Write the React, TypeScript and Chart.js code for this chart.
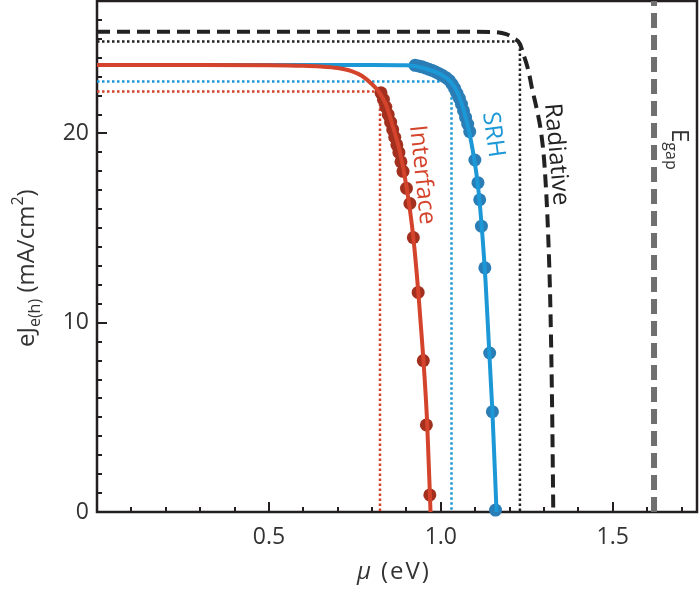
import { useEffect, useRef } from "react";
import { Chart, registerables } from "chart.js";
Chart.register(...registerables);

const FONT = '"Open Sans", "DejaVu Sans", sans-serif';

// axis ticks
const xTicks = [0.5, 1.0, 1.5];
const yTicks = [0, 10, 20];

// Interface (red) model curve
const redLineX = [0, 0.3, 0.5, 0.6, 0.65, 0.7, 0.74, 0.77, 0.8, 0.82, 0.84, 0.86, 0.88, 0.9, 0.92, 0.94, 0.96, 0.97];
const redLineY = [23.62, 23.62, 23.61, 23.58, 23.54, 23.46, 23.3, 23.05, 22.6, 22.2, 21.55, 20.4, 19.1, 17.2, 14.5, 10.3, 4.8, 0];
// Interface (red) data points
const redX = [0.826, 0.833, 0.84, 0.847, 0.854, 0.86, 0.866, 0.872, 0.878, 0.884, 0.89, 0.9, 0.91, 0.92, 0.934, 0.949, 0.958, 0.968];
const redY = [22.15, 21.8, 21.4, 21.0, 20.6, 20.2, 19.8, 19.4, 19.0, 18.5, 18.0, 17.1, 16.3, 14.5, 11.6, 8.0, 4.6, 0.9];

// SRH (blue) model curve
const blueLineX = [0, 0.5, 0.8, 0.9, 0.95, 1.0, 1.03, 1.05, 1.07, 1.09, 1.11, 1.13, 1.15, 1.162];
const blueLineY = [23.62, 23.62, 23.62, 23.6, 23.45, 23.12, 22.7, 22.1, 21.0, 19.4, 16.9, 12.2, 5.3, 0];
// SRH (blue) data points
const blueX = [0.925, 0.935, 0.945, 0.955, 0.965, 0.975, 0.985, 0.995, 1.005, 1.015, 1.025, 1.033, 1.04, 1.047, 1.054, 1.06, 1.066, 1.072, 1.078, 1.084, 1.099, 1.108, 1.113, 1.118, 1.128, 1.142, 1.15, 1.159];
const blueY = [23.6, 23.57, 23.52, 23.46, 23.4, 23.33, 23.25, 23.16, 23.06, 22.95, 22.8, 22.6, 22.38, 22.12, 21.85, 21.55, 21.2, 20.85, 20.5, 20.1, 18.6, 17.4, 16.5, 15.1, 12.9, 8.4, 5.3, 0.1];

// Radiative limit (black dashed)
const radX = [0, 0.5, 1.0, 1.15, 1.19, 1.21, 1.23, 1.24, 1.255, 1.265, 1.28, 1.292, 1.302, 1.312, 1.319, 1.324, 1.327];
const radY = [25.38, 25.38, 25.38, 25.36, 25.25, 25.05, 24.73, 24.2, 23.3, 22.4, 21.2, 20.0, 18.2, 14.7, 10.5, 5.0, 0];

// Maximum power point rectangles (dotted): [Jmp, Vmp]
const radMpp = [24.86, 1.23];
const blueMpp = [22.74, 1.031];
const redMpp = [22.22, 0.823];

// Band gap
const egap = 1.62;
const xMin = 0, xMax = 1.745, yMin = 0, yMax = 27;

const RED = "#d4432b";
const RED_DOT = "#a3301f";
const BLUE = "#1c98d6";
const BLUE_DOT = "#2b7db6";
const BLACK = "#222222";
const GRAY = "#6f6f6f";

function pts(xs: number[], ys: number[]) {
  return xs.map((x, i) => ({ x, y: ys[i] }));
}
function mpp(m: number[]) {
  return [{ x: 0, y: m[0] }, { x: m[1], y: m[0] }, { x: m[1], y: 0 }];
}

const framePlugin = {
  id: "frame",
  beforeDatasetsDraw(chart: any) {
    const { ctx, chartArea: a, scales } = chart;
    const x = scales.x, y = scales.y;
    ctx.save();
    ctx.strokeStyle = "#231f20";
    ctx.lineWidth = 2.5;
    ctx.strokeRect(a.left, a.top, a.right - a.left, a.bottom - a.top);
    ctx.lineWidth = 2;
    ctx.beginPath();
    for (let k = 1; k <= 17; k++) {
      const px = Math.round(x.getPixelForValue(k / 10));
      const major = k % 5 === 0;
      ctx.moveTo(px, a.bottom);
      ctx.lineTo(px, a.bottom - (major ? 10 : 5));
    }
    for (let k = 1; k <= 26; k++) {
      const py = Math.round(y.getPixelForValue(k));
      const major = k % 10 === 0;
      ctx.moveTo(a.left, py);
      ctx.lineTo(a.left + (major ? 10 : 5), py);
    }
    ctx.stroke();
    ctx.restore();
  },
  afterDatasetsDraw(chart: any) {
    const { ctx } = chart;
    ctx.save();
    ctx.textAlign = "left";
    ctx.textBaseline = "alphabetic";

    const rotText = (txt: string, x: number, y: number, deg: number, color: string, size: number) => {
      ctx.save();
      ctx.translate(x, y);
      ctx.rotate((deg * Math.PI) / 180);
      ctx.fillStyle = color;
      ctx.font = `${size}px ${FONT}`;
      ctx.fillText(txt, 0, 0);
      ctx.restore();
    };
    rotText("Interface", 410, 126, 84, RED, 24);
    rotText("SRH", 483, 113, 82, BLUE, 24);
    rotText("Radiative", 545, 104, 85, BLACK, 24);

    // E_gap label
    ctx.save();
    ctx.translate(672, 129);
    ctx.rotate(Math.PI / 2);
    ctx.fillStyle = "#333";
    ctx.font = `24px ${FONT}`;
    ctx.fillText("E", 0, 0);
    const wE = ctx.measureText("E").width;
    ctx.font = `16px ${FONT}`;
    ctx.fillText("gap", wE, 6);
    ctx.restore();

    // y-axis title
    ctx.save();
    ctx.translate(34, 347);
    ctx.rotate(-Math.PI / 2);
    ctx.fillStyle = "#333";
    let cx = 0;
    const seg = (t: string, size: number, dy: number) => {
      ctx.font = `${size}px ${FONT}`;
      ctx.fillText(t, cx, dy);
      cx += ctx.measureText(t).width;
    };
    seg("eJ", 24, 0);
    seg("e(h)", 16, 6);
    seg(" (mA/cm", 24, 0);
    seg("2", 16, -11);
    seg(")", 24, 0);
    ctx.restore();

    // x-axis title
    ctx.save();
    ctx.fillStyle = "#333";
    ctx.font = `italic 24px ${FONT}`;
    ctx.fillText("μ", 357, 579);
    ctx.font = `24px ${FONT}`;
    (ctx as any).letterSpacing = "2px";
    ctx.fillText("(eV)", 381, 579);
    ctx.restore();

    ctx.restore();
  },
};

export default function App() {
  const ref = useRef<HTMLCanvasElement | null>(null);
  useEffect(() => {
    if (!ref.current) return;
    const line = (data: any, color: string, width: number, dash: number[], extra: any = {}) => ({
      data,
      showLine: true,
      borderColor: color,
      borderWidth: width,
      borderDash: dash,
      pointRadius: 0,
      pointHoverRadius: 0,
      fill: false,
      clip: false,
      ...extra,
    });
    const dots = (data: any, color: string, r: number) => ({
      data,
      showLine: false,
      pointRadius: r,
      pointBackgroundColor: color,
      pointBorderWidth: 0,
      borderColor: color,
      clip: false,
    });
    const chart = new Chart(ref.current, {
      type: "scatter",
      data: {
        datasets: [
          line(pts(redLineX, redLineY), RED, 4, [], { cubicInterpolationMode: "monotone" }),
          dots(pts(redX, redY), RED_DOT, 6.5),
          line(pts(blueLineX, blueLineY), BLUE, 4, [], { cubicInterpolationMode: "monotone" }),
          dots(pts(blueX, blueY), BLUE_DOT, 6.5),
          line(pts(radX, radY), BLACK, 4, [13, 7], { cubicInterpolationMode: "monotone" }),
          line(mpp(radMpp), BLACK, 2.5, [2.5, 2.5]),
          line(mpp(blueMpp), BLUE, 2.5, [2.5, 2.5]),
          line(mpp(redMpp), RED, 2.5, [2.5, 2.5]),
          line([{ x: egap, y: yMin }, { x: egap, y: yMax }], GRAY, 6, [15, 7]),
        ] as any,
      },
      options: {
        animation: false,
        responsive: false,
        devicePixelRatio: 1,
        layout: { autoPadding: false, padding: { left: 0, right: 3, top: 1, bottom: 0 } },
        plugins: { legend: { display: false }, tooltip: { enabled: false } },
        events: [],
        scales: {
          x: {
            type: "linear",
            min: xMin,
            max: xMax,
            grid: { display: false, drawTicks: false },
            border: { display: false },
            afterBuildTicks: (s: any) => {
              s.ticks = xTicks.map((v) => ({ value: v }));
            },
            afterFit: (s: any) => {
              s.height = 77;
              s.paddingLeft = 0;
              s.paddingRight = 0;
            },
            ticks: {
              padding: 12,
              color: "#333",
              font: { family: FONT, size: 23 },
              callback: (v: any) => Number(v).toFixed(1),
            },
          },
          y: {
            type: "linear",
            min: yMin,
            max: yMax,
            grid: { display: false, drawTicks: false },
            border: { display: false },
            afterBuildTicks: (s: any) => {
              s.ticks = yTicks.map((v) => ({ value: v }));
            },
            afterFit: (s: any) => {
              s.width = 97;
              s.paddingTop = 0;
              s.paddingBottom = 0;
            },
            ticks: {
              padding: 8,
              color: "#333",
              font: { family: FONT, size: 23 },
              callback: (v: any) => String(v),
            },
          },
        },
      } as any,
      plugins: [framePlugin],
    });
    return () => chart.destroy();
  }, []);
  return (
    <div style={{ position: "absolute", left: 0, top: 0, width: 700, height: 589, background: "#fff" }}>
      <canvas ref={ref} width={700} height={589} />
    </div>
  );
}
